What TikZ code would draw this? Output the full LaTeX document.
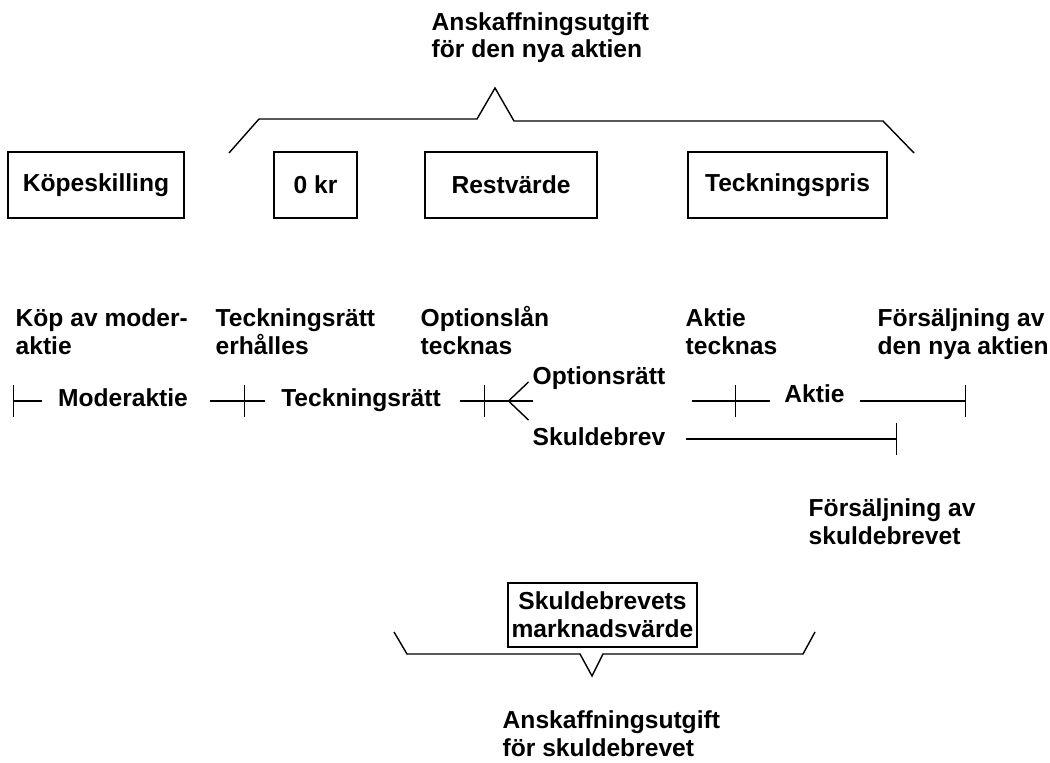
\documentclass[tikz,border=0pt]{standalone}
\usepackage{fontspec}
\setmainfont{Liberation Sans}
\begin{document}
\begin{tikzpicture}[x=0.02cm, y=-0.02cm, line width=0.8pt,
  every node/.style={font=\fontsize{14}{15.9}\selectfont\bfseries},
  post/.style={draw, minimum height=1.32cm, inner sep=0pt},
  event/.style={anchor=base west, align=left, inner sep=0pt},
  span/.style={anchor=base, inner sep=0pt}]
\useasboundingbox (0,0) rectangle (1050,763);
% values
\node[post, minimum width=3.52cm] (kop) at (96,185) {Köpeskilling};
\node[post, minimum width=1.66cm] (noll) at (315.5,185) {0 kr};
\node[post, minimum width=3.44cm] (rest) at (511,185) {Restvärde};
\node[post, minimum width=3.98cm] (pris) at (787.5,185) {Teckningspris};
\node[post, minimum width=3.78cm, minimum height=1.28cm, align=center] (mv) at (602.5,615) {Skuldebrevets\\marknadsvärde};
% braces (base = last line)
\node[event] (sumA) at (431,58) {Anskaffningsutgift\\för den nya aktien};
\draw (229,153) -- (259,119) -- (477,119) -- (495,88) -- (514,121) -- (883,121) -- (914,153);
\draw (394,632) -- (407,654) -- (580,654) -- (592,676) -- (603,654) -- (803,654) -- (815,632);
\node[event] (sumS) at (502,756) {Anskaffningsutgift\\för skuldebrevet};
% events
\node[event] (e1) at (15,354) {Köp av moder-\\aktie};
\node[event] (e2) at (215,354) {Teckningsrätt\\erhålles};
\node[event] (e3) at (420,354) {Optionslån\\tecknas};
\node[event] (e4) at (685,354) {Aktie\\tecknas};
\node[event] (e5) at (877,354) {Försäljning av\\den nya aktien};
\node[event] (e6) at (808,544) {Försäljning av\\skuldebrevet};
% time line
\coordinate (t0) at (13.6,401);
\coordinate (t1) at (244.4,401);
\coordinate (t2) at (484.5,401);
\coordinate (fk) at (508.5,401);
\coordinate (fe) at (533,401);
\coordinate (a0) at (692,401);
\coordinate (t3) at (735.7,401);
\coordinate (t4) at (965.7,401);
\coordinate (t5) at (896.7,439);
\node[span] (mod) at (123,406) {Moderaktie};
\node[span] (tr) at (361,406) {Teckningsrätt};
\node[span] (opt) at (599,384) {Optionsrätt};
\node[span] (skb) at (599,445.5) {Skuldebrev};
\node[span] (akt) at (814.5,402) {Aktie};
\draw[shorten >=9pt] (t0) -- (mod.west |- t0);
\draw[shorten <=12pt, shorten >=9pt] (mod.east |- t1) -- (tr.west |- t1);
\draw[shorten <=10.5pt] (tr.east |- t2) -- (fe);
\draw (fk) -- ++(20,-19) (fk) -- ++(20,19);
\draw[shorten >=8pt] (a0) -- (akt.west |- a0);
\draw[shorten <=8.5pt] (akt.east |- t4) -- (t4);
\draw[shorten <=11.5pt] (skb.east |- t5) -- (t5);
\foreach \t in {t0,t1,t2,t3,t4,t5}
  \draw (\t) ++(0,-16) -- ++(0,32);
\end{tikzpicture}
\end{document}
